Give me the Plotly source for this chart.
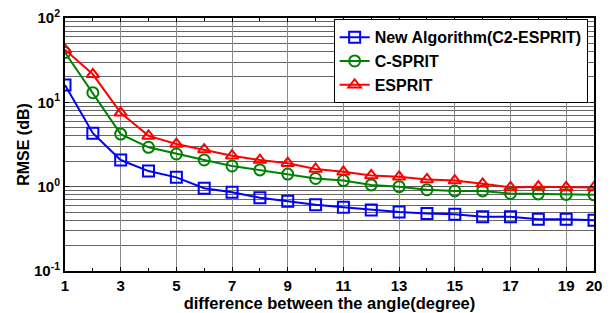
import plotly.graph_objects as go

x_vals = list(range(1, 21))
new_alg = [16.1, 4.3, 2.07, 1.53, 1.29, 0.96, 0.86, 0.74, 0.67, 0.61, 0.57, 0.53, 0.50, 0.48, 0.47, 0.44, 0.44, 0.41, 0.41, 0.40]
c_sprit = [39, 13, 4.2, 2.93, 2.44, 2.07, 1.76, 1.58, 1.41, 1.25, 1.18, 1.05, 1.0, 0.92, 0.89, 0.89, 0.83, 0.82, 0.81, 0.80]
esprit = [42, 21.5, 7.5, 4.0, 3.2, 2.75, 2.33, 2.07, 1.9, 1.62, 1.5, 1.36, 1.31, 1.22, 1.18, 1.08, 0.98, 1.0, 0.98, 0.98]

names = ["New Algorithm(C2-ESPRIT)", "C-SPRIT", "ESPRIT"]
colors = ["#0000ff", "#008000", "#ff0000"]
symbols = ["square-open", "circle-open", "triangle-up-open"]
series = [new_alg, c_sprit, esprit]

x_ticks = [1, 3, 5, 7, 9, 11, 13, 15, 17, 19, 20]
y_ticks = [0.1, 1, 10, 100]
y_text = ["10<sup>-1</sup>", "10<sup>0</sup>", "10<sup>1</sup>", "10<sup>2</sup>"]
y_minor = [m * 10 ** e for e in (-1, 0, 1) for m in range(2, 10)]

fig = go.Figure()
for n, c, s, v in zip(names, colors, symbols, series):
    fig.add_trace(go.Scatter(
        x=x_vals, y=v, name=n, mode="lines+markers",
        line=dict(color=c, width=2),
        marker=dict(symbol=s, size=11, color=c, line=dict(width=2, color=c)),
    ))

font_family = "Liberation Sans, Arial, sans-serif"
fig.update_layout(
    width=611, height=313,
    margin=dict(l=65, r=17, t=18, b=42),
    paper_bgcolor="white", plot_bgcolor="white",
    font=dict(family=font_family, color="black", size=13),
    showlegend=True,
    legend=dict(
        x=0.988, y=0.995, xanchor="right", yanchor="top",
        bgcolor="white", bordercolor="black", borderwidth=1,
        font=dict(size=16, family=font_family, color="black", weight="bold"),
        tracegroupgap=0, itemwidth=30,
    ),
    xaxis=dict(
        range=[1, 20], tickvals=x_ticks, ticktext=[str(t) for t in x_ticks],
        showgrid=True, gridcolor="#888888", gridwidth=1,
        showline=True, linecolor="black", linewidth=2, mirror="allticks",
        ticks="inside", ticklen=4, tickcolor="black",
        minor=dict(dtick=1, tick0=0, ticks="inside", ticklen=3, tickcolor="black", showgrid=False),
        tickfont=dict(size=15, weight="bold"),
        title=dict(text="difference between the angle(degree)", font=dict(size=16.5, weight="bold"), standoff=0),
        zeroline=False, automargin=False,
    ),
    yaxis=dict(
        type="log", range=[-1, 2], tickvals=y_ticks, ticktext=y_text,
        showgrid=True, gridcolor="#555555", gridwidth=1,
        showline=True, linecolor="black", linewidth=2, mirror="allticks",
        ticks="inside", ticklen=4, tickcolor="black",
        minor=dict(tickvals=y_minor, showgrid=True, gridcolor="#666666", gridwidth=1, ticks=""),
        tickfont=dict(size=15, weight="bold"),
        title=dict(text="RMSE (dB)", font=dict(size=16, weight="bold"), standoff=0),
        zeroline=False, automargin=False,
    ),
)

fig.write_html("out.html", config={"displayModeBar": False},
               post_script="document.body.style.margin='0';")
